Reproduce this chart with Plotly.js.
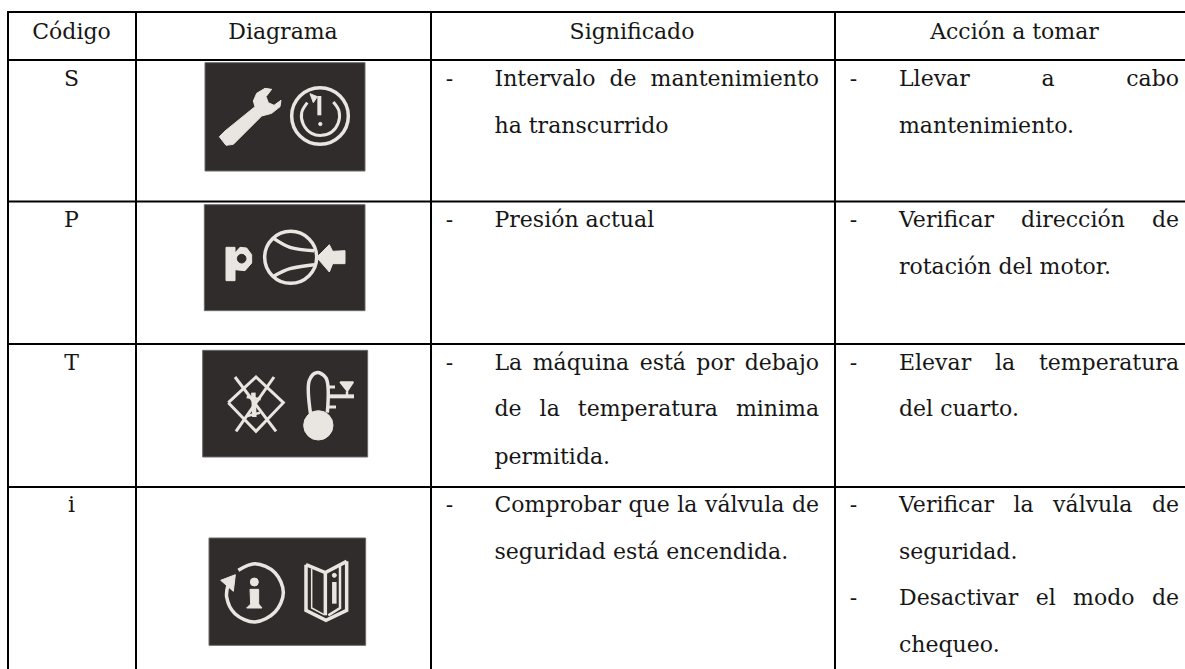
<!DOCTYPE html>
<html><head><meta charset="utf-8">
<script src="https://cdn.plot.ly/plotly-3.0.1.min.js"></script>
<style>html,body{margin:0;padding:0;background:#fff}#c{width:1185px;height:669px}</style>
</head><body><div id="c"></div>
<script>
// ---------- table content ----------
const headers = ["Código","Diagrama","Significado","Acción a tomar"];
const codes = ["S","P","T","i"];
const meaningLines = ["Intervalo de mantenimiento","ha transcurrido","Presión actual","La máquina está por debajo","de la temperatura minima","permitida.","Comprobar que la válvula de","seguridad está encendida."];
const actionLines = ["Llevar a cabo","mantenimiento.","Verificar dirección de","rotación del motor.","Elevar la temperatura","del cuarto.","Verificar la válvula de","seguridad.","Desactivar el modo de","chequeo."];
// ---------- table geometry ----------
const colEdges = [8,136,431,835];
const rowEdges = [12,60,201.5,344,487];
const headerCentres = [71.5,283,632,1014.5];
const headerY = 33;
const codeX = 71.5;
const codeY = [80,221,364,506];
const meaningX = 494.5, meaningRight = 819;
const actionX = 899, actionRight = 1179;
const meaningY = [80,127,221,364,410,458,506,553];
const actionY = [80,127,221,268,364,410,506,553,599,646];
const meaningJustified = [true,false,false,true,true,false,true,false];
const actionJustified = [true,false,true,false,true,false,true,false,true,false];
const meaningDashY = [80,221,364,506];
const actionDashY = [80,221,364,506,599];
const dashMeaningX = 449.5, dashActionX = 853.5;

const INK = "#161616", FONT = "DejaVu Serif", SIZE = 22;
const PALE = "#e9e6e1", DARK = "#2f2c2b";

function textTrace(xs, ys, txt, pos){
  return {type:"scatter",mode:"text",x:xs,y:ys,text:txt,textposition:pos,cliponaxis:false,hoverinfo:"skip",
    textfont:{family:FONT,size:SIZE,color:INK},showlegend:false};
}
// ---------- icon outlines, in 1/3 pixel units inside each icon's box ----------
const icons = [
 {ox:200,oy:56,box:[15,20,495,345],parts:[
  {p:[[58,242],[78,268],[100,265],[185,180],[215,172],[240,152],[243,133],[222,148],[205,140],[198,122],[215,100],[195,97],[170,112],[160,135],[165,152],[75,225],[58,242]],fill:true,w:1},
  {c:[360,180,85],w:3.5},
  {p:[[322,140],[305,170],[310,205],[335,232],[365,238],[395,228],[415,200],[417,165],[400,138]],w:3,s:true},
  {p:[[358,120],[358,178]],w:4},
  {p:[[330,113],[352,122],[340,140],[330,113]],fill:true,w:1},
  {c:[361,204,5],w:1,fill:true}
 ]},
 {ox:200,oy:198,box:[13,20,495,338],parts:[
  {p:[[78,148],[105,148],[105,165],[120,148],[140,150],[155,170],[155,195],[135,218],[105,215],[105,248],[78,248],[78,148]],fill:true,w:1},
  {c:[125,182,13],w:1,fill:true,dark:true},
  {c:[272,178,78],w:3.5},
  {p:[[222,122],[270,148],[342,158]],w:3.5,s:true},
  {p:[[222,234],[270,212],[342,200]],w:3.5,s:true},
  {p:[[350,178],[388,140],[398,160],[435,158],[435,197],[398,197],[388,222],[350,178]],fill:true,w:1}
 ]},
 {ox:200,oy:342,box:[8,25,503,345],parts:[
  {p:[[85,182],[168,105],[250,182],[168,268],[85,182]],w:3},
  {p:[[105,105],[228,268]],w:3},
  {p:[[222,105],[108,268]],w:3},
  {p:[[160,152],[163,225]],w:4.5},
  {p:[[140,165],[182,172]],w:2.5},
  {p:[[142,222],[180,212]],w:2.5},
  {p:[[332,218],[328,115],[350,92],[378,108],[382,212]],w:3.5,s:true},
  {c:[355,250,44],w:1,fill:true},
  {p:[[385,135],[405,135]],w:3},
  {p:[[385,195],[408,195]],w:3},
  {p:[[385,163],[462,163]],w:4},
  {p:[[420,120],[460,120],[442,148],[420,120]],fill:true,w:1.5},
  {p:[[441,148],[441,163]],w:2.5}
 ]},
 {ox:200,oy:532,box:[27,18,497,340],parts:[
  {p:[[115,115],[165,95],[225,122],[250,182],[225,240],[165,270],[105,245],[80,195],[85,155]],w:3.5,s:true},
  {p:[[62,145],[106,128],[100,178],[62,145]],fill:true,w:1},
  {c:[163,150,12],w:1,fill:true},
  {p:[[150,172],[176,172],[176,216],[186,228],[140,228],[152,216],[150,172]],fill:true,w:1},
  {p:[[318,98],[318,235],[378,265],[440,235],[440,88]],w:3.5},
  {p:[[318,98],[376,122],[440,88]],w:3.5},
  {p:[[376,122],[376,250]],w:3.5},
  {p:[[420,100],[420,228],[385,250]],w:2.5},
  {p:[[335,110],[335,228],[372,248]],w:1.5},
  {c:[403,130,6],w:1,fill:true},
  {p:[[403,150],[403,215]],w:4.5}
 ]}
];
const toX = (ic,v)=> ic.ox + v/3, toY = (ic,v)=> ic.oy + v/3;

const traces = [];
const shapes = [];
colEdges.forEach(x=>shapes.push({type:"line",xref:"x",yref:"y",x0:x,x1:x,y0:rowEdges[0]-1,y1:669,line:{color:"#000",width:2}}));
rowEdges.forEach(y=>shapes.push({type:"line",xref:"x",yref:"y",x0:colEdges[0]-1,x1:1185,y0:y,y1:y,line:{color:"#000",width:2}}));

icons.forEach(ic=>{
  const b = ic.box;
  shapes.push({type:"rect",xref:"x",yref:"y",layer:"below",x0:toX(ic,b[0]),x1:toX(ic,b[2]),y0:toY(ic,b[1]),y1:toY(ic,b[3]),
    fillcolor:DARK,line:{color:"#6b6866",width:1}});
  ic.parts.forEach(q=>{
    if(q.c){
      const [cx,cy,r]=q.c;
      const col = q.dark?DARK:PALE;
      shapes.push({type:"circle",xref:"x",yref:"y",layer:"above",x0:toX(ic,cx-r),x1:toX(ic,cx+r),y0:toY(ic,cy-r),y1:toY(ic,cy+r),
        line:{color:col,width:q.w},fillcolor:q.fill?col:"rgba(0,0,0,0)"});
    } else {
      traces.push({type:"scatter",mode:"lines",x:q.p.map(a=>toX(ic,a[0])),y:q.p.map(a=>toY(ic,a[1])),hoverinfo:"skip",showlegend:false,
        line:{color:PALE,width:q.w,shape:q.s?"spline":"linear"},fill:q.fill?"toself":"none",fillcolor:PALE});
    }
  });
});

traces.push(textTrace(headerCentres,headerCentres.map(()=>headerY),headers,"middle center"));
traces.push(textTrace(codes.map(()=>codeX),codeY,codes,"middle center"));
traces.push(textTrace(meaningDashY.map(()=>dashMeaningX),meaningDashY,meaningDashY.map(()=>"-"),"middle center"));
traces.push(textTrace(actionDashY.map(()=>dashActionX),actionDashY,actionDashY.map(()=>"-"),"middle center"));
traces.push(textTrace(meaningLines.map(()=>meaningX),meaningY,meaningLines,"middle right"));
traces.push(textTrace(actionLines.map(()=>actionX),actionY,actionLines,"middle right"));

const layout = {width:1185,height:669,margin:{l:0,r:0,t:0,b:0},paper_bgcolor:"#fff",plot_bgcolor:"#fff",showlegend:false,
  xaxis:{range:[0,1185],visible:false,fixedrange:true},
  yaxis:{range:[669,0],visible:false,fixedrange:true},shapes};

Plotly.newPlot("c",traces,layout,{displayModeBar:false,staticPlot:true}).then(gd=>{
  // justified lines: stretch the word gaps to the column width
  const want = {};
  meaningLines.forEach((t,i)=>{ if(meaningJustified[i]) want[t]=meaningRight-meaningX; });
  actionLines.forEach((t,i)=>{ if(actionJustified[i]) want[t]=actionRight-actionX; });
  gd.querySelectorAll(".textpoint text").forEach(el=>{
    const t = el.textContent;
    if(want[t]){
      const gaps = t.split(" ").length-1;
      const len = el.getComputedTextLength();
      el.style.wordSpacing = ((want[t]-len)/gaps)+"px";
    }
  });
});
</script></body></html>
